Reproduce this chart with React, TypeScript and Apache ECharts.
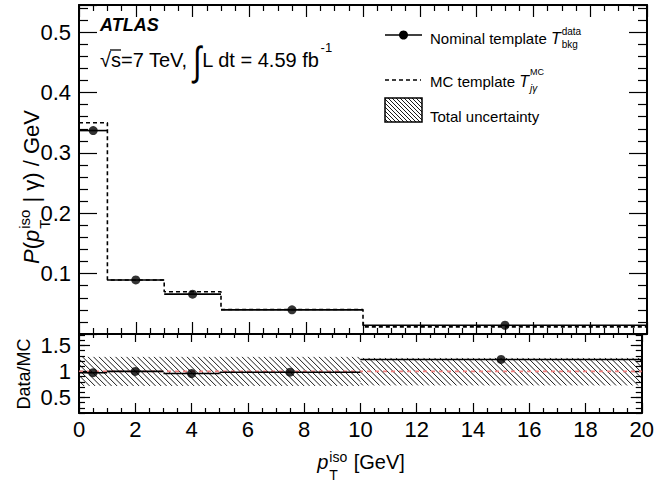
import React, { useEffect, useRef } from "react";
import * as echarts from "echarts";

// ---------- data ----------
const binEdges = [0, 1, 3, 5, 10, 20];
const nominalTemplate = [0.337, 0.0895, 0.066, 0.04, 0.0145];
const mcTemplate = [0.35, 0.0895, 0.07, 0.0405, 0.0118];
const dataOverMC = [0.975, 1.0, 0.96, 0.985, 1.23];
const uncertaintyLow = [0.72, 0.72, 0.72, 0.72, 0.73];
const uncertaintyHigh = [1.28, 1.28, 1.28, 1.28, 1.26];
const xTickLabels = [0, 2, 4, 6, 8, 10, 12, 14, 16, 18, 20];
const topYTickLabels = [0.1, 0.2, 0.3, 0.4, 0.5];
const ratioYTickLabels = [0.5, 1, 1.5];

const FF = '"Liberation Sans", Arial, Helvetica, sans-serif';

// ---------- layout ----------
const W = 657;
const H = 482;
const GL = 79;
const GR = 10;
const T0 = 5;
const H0 = 329;
const T1 = 334;
const H1 = 79;

let measureCtx: CanvasRenderingContext2D | null = null;
function textW(text: string, size: number, italic = false, bold = false) {
  if (!measureCtx) measureCtx = document.createElement("canvas").getContext("2d");
  const c = measureCtx!;
  c.font = `${italic ? "italic " : ""}${bold ? "bold " : ""}${size}px ${FF}`;
  return c.measureText(text).width;
}

function T(x: number, y: number, text: string, size: number, o: any = {}) {
  const align = o.align || "left";
  return {
    type: "text",
    x,
    y,
    silent: true,
    scaleX: o.scaleX || 1,
    scaleY: o.scaleY || 1,
    style: {
      text,
      fontSize: size,
      fontFamily: FF,
      fontStyle: o.italic ? "italic" : "normal",
      fontWeight: o.bold ? "bold" : "normal",
      fill: "#000",
      align,
      textAlign: align,
      verticalAlign: "middle",
      textVerticalAlign: "middle",
    },
  };
}

function hatchLines(left: number, top: number, right: number, bottom: number, sp: number, lw: number) {
  const h = bottom - top;
  const out: any[] = [];
  const start = Math.floor((left - h) / sp) * sp;
  for (let c = start; c < right; c += sp) {
    let xa = c, ya = top, xb = c + h, yb = bottom;
    if (xa < left) { ya += left - xa; xa = left; }
    if (xb > right) { yb -= xb - right; xb = right; }
    if (xb - xa <= 0.01) continue;
    out.push({ type: "line", silent: true, shape: { x1: xa, y1: ya, x2: xb, y2: yb }, style: { stroke: "#000", lineWidth: lw } });
  }
  return out;
}

function buildTitle(x0: number, y: number, S: number, parts: any[]) {
  const els: any[] = [];
  let x = x0;
  const s = Math.round(S * 0.68);
  for (const p of parts) {
    if (p.stack) {
      const wa = textW(p.sup, s);
      const wb = textW(p.sub, s);
      els.push(T(x + 1, y - 0.28 * S, p.sup, s));
      els.push(T(x + 1, y + 0.63 * S, p.sub, s));
      x += Math.max(wa, wb) + 2;
    } else {
      els.push(T(x, y, p.t, S, { italic: p.italic }));
      x += textW(p.t, S, p.italic);
    }
  }
  return { els, width: x - x0 };
}

function buildCentered(cx: number, y: number, S: number, parts: any[]) {
  const m = buildTitle(0, y, S, parts);
  const { els } = buildTitle(cx - m.width / 2, y, S, parts);
  return els;
}

function buildGraphic() {
  const els: any[] = [];
  // ATLAS label
  els.push(T(100, 25, "ATLAS", 18, { italic: true, bold: true }));
  // lumi line
  const LS = 20;
  const ly = 59.5;
  let x = 100;
  els.push(T(x, ly, "\u221A", LS));
  const wr = textW("\u221A", LS);
  x += wr;
  const ws = textW("s", LS);
  els.push({ type: "line", silent: true, shape: { x1: x - 1, y1: 50, x2: x + ws, y2: 50 }, style: { stroke: "#000", lineWidth: 1.3 } });
  els.push(T(x, ly, "s=7 TeV, ", LS));
  x += textW("s=7 TeV, ", LS);
  els.push(T(x, 61, "\u222B", 30, { scaleY: 1.35 }));
  x += textW("\u222B", 30) + 1;
  els.push(T(x, ly, "L dt = 4.59 fb", LS));
  x += textW("L dt = 4.59 fb", LS);
  els.push(T(x + 1, 47, "-1", 13));

  // legend
  const LF = 15;
  els.push({ type: "line", silent: true, shape: { x1: 385, y1: 35, x2: 422, y2: 35 }, style: { stroke: "#000", lineWidth: 1.6 } });
  els.push({ type: "circle", silent: true, shape: { cx: 403.5, cy: 35, r: 4.5 }, style: { fill: "#000" } });
  let lx = 430;
  els.push(T(lx, 38.5, "Nominal template ", LF));
  lx += textW("Nominal template ", LF);
  els.push(T(lx, 38.5, "T", LF + 1, { italic: true }));
  lx += textW("T", LF + 1, true) + 1;
  els.push(T(lx, 31, "data", 10));
  els.push(T(lx, 44.5, "bkg", 10));

  els.push({ type: "line", silent: true, shape: { x1: 385, y1: 80, x2: 421, y2: 80 }, style: { stroke: "#000", lineWidth: 1.6, lineDash: [4, 3] } });
  lx = 430;
  els.push(T(lx, 81.5, "MC template ", LF));
  lx += textW("MC template ", LF);
  els.push(T(lx, 81.5, "T", LF + 1, { italic: true }));
  lx += textW("T", LF + 1, true) + 1;
  els.push(T(lx, 72, "MC", 9));
  els.push(T(lx, 88, "j\u03B3", 10, { italic: true }));

  els.push({ type: "rect", silent: true, shape: { x: 385, y: 98, width: 37, height: 24 }, style: { fill: "#fff", stroke: "none" } });
  hatchLines(385, 98, 422, 122, 4, 0.9).forEach((l) => els.push(l));
  els.push({ type: "rect", silent: true, shape: { x: 385, y: 98, width: 37, height: 24 }, style: { fill: "none", stroke: "#000", lineWidth: 1.5 } });
  els.push(T(430, 116, "Total uncertainty", LF));

  // x-axis title
  buildCentered(361, 462.4, 20, [
    { t: "p", italic: true },
    { stack: true, sup: "iso", sub: "T" },
    { t: " [GeV]" },
  ]).forEach((e) => els.push(e));

  // y-axis title (rotated)
  const yt = buildCentered(0, 0, 22, [
    { t: "P", italic: true },
    { t: "(" },
    { t: "p", italic: true },
    { stack: true, sup: "iso", sub: "T" },
    { t: " | \u03B3) / GeV" },
  ]);
  els.push({ type: "group", x: 31, y: 187, rotation: Math.PI / 2, children: yt });

  // ratio y title
  els.push({ type: "group", x: 24, y: 374, rotation: Math.PI / 2, children: [T(0, 0, "Data/MC", 18, { align: "center" })] });
  return els;
}

const stepData = (vals: number[]) => vals.flatMap((v, i) => [[binEdges[i], v], [binEdges[i + 1], v]]);
const centers = binEdges.slice(0, -1).map((e, i) => (e + binEdges[i + 1]) / 2);

function segRender(params: any, api: any) {
  const a = api.coord([api.value(0), api.value(2)]);
  const b = api.coord([api.value(1), api.value(2)]);
  return { type: "line", shape: { x1: a[0], y1: a[1], x2: b[0], y2: b[1] }, style: { stroke: "#000", lineWidth: 1.6 } };
}

function bandRender(params: any, api: any) {
  const p0 = api.coord([api.value(0), api.value(3)]);
  const p1 = api.coord([api.value(1), api.value(2)]);
  return { type: "group", children: hatchLines(p0[0], p0[1], p1[0], p1[1], 5.5, 0.9) };
}

const black = "#000";
const tickLS = { color: black, width: 1.2 };
const axisLS = { color: black, width: 2 };

function xAx(grid: number, pos: string, major: number, minor: number, labels: boolean) {
  return {
    type: "value",
    gridIndex: grid,
    position: pos,
    min: 0,
    max: 20,
    interval: 2,
    axisLine: { show: true, onZero: false, lineStyle: axisLS },
    axisTick: { show: true, inside: true, length: major, lineStyle: tickLS },
    minorTick: { show: true, splitNumber: 4, length: minor, lineStyle: tickLS },
    splitLine: { show: false },
    minorSplitLine: { show: false },
    axisLabel: labels
      ? { show: true, customValues: xTickLabels, color: black, fontSize: 22, fontFamily: FF, margin: 5, formatter: (v: number) => String(v) }
      : { show: false },
  };
}

function yTop(pos: string, labels: boolean) {
  return {
    type: "value",
    gridIndex: 0,
    position: pos,
    min: 0,
    max: 0.545,
    interval: 0.1,
    axisLine: { show: true, onZero: false, lineStyle: axisLS },
    axisTick: { show: true, inside: true, length: 18, lineStyle: tickLS },
    minorTick: { show: true, splitNumber: 5, length: 9, lineStyle: tickLS },
    splitLine: { show: false },
    minorSplitLine: { show: false },
    axisLabel: labels
      ? { show: true, customValues: topYTickLabels, color: black, fontSize: 22, fontFamily: FF, margin: 8, formatter: (v: number) => v.toFixed(1) }
      : { show: false },
  };
}

function yRatioMinor(pos: string) {
  return {
    type: "value",
    gridIndex: 1,
    position: pos,
    min: 0.2,
    max: 1.72,
    interval: 0.1,
    axisLine: { show: true, onZero: false, lineStyle: axisLS },
    axisTick: { show: true, inside: true, length: 6, lineStyle: tickLS },
    splitLine: { show: false },
    axisLabel: { show: false },
  };
}

function yRatioMajor(pos: string, labels: boolean) {
  return {
    type: "value",
    gridIndex: 1,
    position: pos,
    min: 0.2,
    max: 1.72,
    axisLine: { show: false, onZero: false },
    axisTick: { show: true, inside: true, length: 11, customValues: ratioYTickLabels, lineStyle: tickLS },
    splitLine: { show: false },
    axisLabel: labels
      ? { show: true, customValues: ratioYTickLabels, color: black, fontSize: 22, fontFamily: FF, margin: 8, formatter: (v: number) => (v === 1 ? "1" : v.toFixed(1)) }
      : { show: false },
  };
}

export default function App() {
  const ref = useRef<HTMLDivElement>(null);
  useEffect(() => {
    if (!ref.current) return;
    const chart = echarts.init(ref.current, null, { renderer: "svg", width: W, height: H });
    const option: any = {
      animation: false,
      backgroundColor: "#fff",
      textStyle: { fontFamily: FF },
      grid: [
        { left: GL, right: GR, top: T0, height: H0 },
        { left: GL, right: GR, top: T1, height: H1 },
      ],
      xAxis: [
        xAx(0, "bottom", 12, 6, false),
        xAx(0, "top", 12, 6, false),
        xAx(1, "bottom", 10, 5, true),
        xAx(1, "top", 8, 4, false),
      ],
      yAxis: [
        yTop("left", true),
        yTop("right", false),
        yRatioMinor("left"),
        yRatioMajor("left", true),
        yRatioMinor("right"),
        yRatioMajor("right", false),
      ],
      series: [
        {
          type: "line",
          name: "MC template",
          xAxisIndex: 0,
          yAxisIndex: 0,
          data: stepData(mcTemplate),
          symbol: "none",
          lineStyle: { color: black, width: 1.6, type: [4, 3] },
          z: 3,
        },
        {
          type: "custom",
          name: "Nominal template",
          xAxisIndex: 0,
          yAxisIndex: 0,
          renderItem: segRender,
          data: nominalTemplate.map((v, i) => [binEdges[i], binEdges[i + 1], v]),
          encode: { x: [0, 1], y: 2 },
          z: 2,
        },
        {
          type: "scatter",
          xAxisIndex: 0,
          yAxisIndex: 0,
          data: centers.map((c, i) => [c, nominalTemplate[i]]),
          symbolSize: 9,
          itemStyle: { color: black },
          z: 4,
        },
        {
          type: "custom",
          name: "Total uncertainty",
          xAxisIndex: 2,
          yAxisIndex: 3,
          renderItem: bandRender,
          data: uncertaintyLow.map((lo, i) => [binEdges[i], binEdges[i + 1], lo, uncertaintyHigh[i]]),
          encode: { x: [0, 1], y: [2, 3] },
          z: 1,
        },
        {
          type: "line",
          xAxisIndex: 2,
          yAxisIndex: 3,
          data: [[binEdges[0], 1], [binEdges[binEdges.length - 1], 1]],
          symbol: "none",
          lineStyle: { color: "#f08080", width: 1.6, type: [4, 4] },
          z: 2,
        },
        {
          type: "custom",
          xAxisIndex: 2,
          yAxisIndex: 3,
          renderItem: segRender,
          data: dataOverMC.map((v, i) => [binEdges[i], binEdges[i + 1], v]),
          encode: { x: [0, 1], y: 2 },
          z: 3,
        },
        {
          type: "scatter",
          xAxisIndex: 2,
          yAxisIndex: 3,
          data: centers.map((c, i) => [c, dataOverMC[i]]),
          symbolSize: 9,
          itemStyle: { color: black },
          z: 4,
        },
      ],
      graphic: { elements: buildGraphic() },
    };
    chart.setOption(option);
    return () => chart.dispose();
  }, []);
  return <div ref={ref} style={{ position: "fixed", left: 0, top: 0, width: W, height: H }} />;
}
